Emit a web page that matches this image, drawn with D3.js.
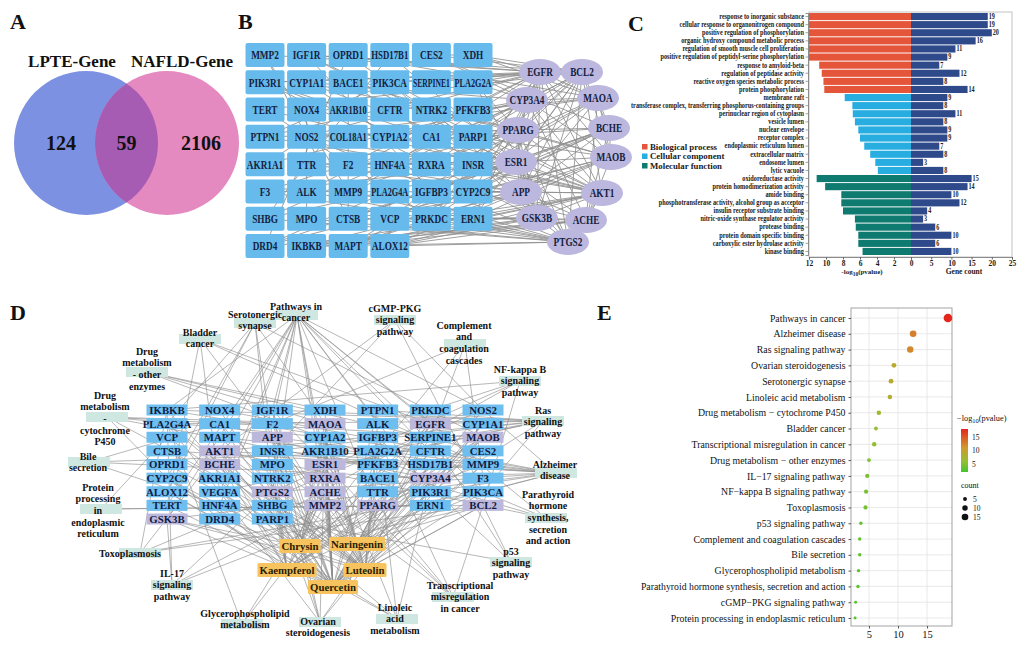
<!DOCTYPE html>
<html>
<head>
<meta charset="utf-8">
<script src="https://cdn.jsdelivr.net/npm/d3@7"></script>
<style>
  html, body { margin: 0; padding: 0; background: #fff; }
  svg { display: block; }
  svg text { font-family: "Liberation Serif", "Times New Roman", serif; }
</style>
</head>
<body>
<svg id="fig" width="1027" height="646"></svg>
<script>
// ─── Panel A data ────────────────────────────────────────────
const vennNames = ["LPTE-Gene", "NAFLD-Gene"];
const vennCounts = [124, 59, 2106]; // left only, shared, right only

// ─── Panel B data ────────────────────────────────────────────
const bGrid = [
  ["MMP2", "IGF1R", "OPRD1", "HSD17B1", "CES2", "XDH"],
  ["PIK3R1", "CYP1A1", "BACE1", "PIK3CA", "SERPINE1", "PLA2G2A"],
  ["TERT", "NOX4", "AKR1B10", "CFTR", "NTRK2", "PFKFB3"],
  ["PTPN1", "NOS2", "COL18A1", "CYP1A2", "CA1", "PARP1"],
  ["AKR1A1", "TTR", "F2", "HNF4A", "RXRA", "INSR"],
  ["F3", "ALK", "MMP9", "PLA2G4A", "IGFBP3", "CYP2C9"],
  ["SHBG", "MPO", "CTSB", "VCP", "PRKDC", "ERN1"],
  ["DRD4", "IKBKB", "MAPT", "ALOX12"]
];
const bHubs = ["EGFR", "BCL2", "CYP3A4", "MAOA", "PPARG", "BCHE", "ESR1",
               "MAOB", "APP", "AKT1", "GSK3B", "ACHE", "PTGS2"];
const bHubTargets = {
  EGFR:   ["MMP2", "IGF1R", "PIK3R1", "PIK3CA", "PTPN1", "NOS2", "MMP9", "ALK", "PRKDC", "SERPINE1", "XDH", "PLA2G2A", "ERN1", "INSR", "F2"],
  BCL2:   ["TERT", "PARP1", "PIK3R1", "PIK3CA", "MMP9", "IGF1R", "PRKDC", "ERN1", "VCP", "XDH", "CES2"],
  CYP3A4: ["CYP1A1", "CYP1A2", "CYP2C9", "HNF4A", "RXRA", "CES2", "AKR1A1", "SHBG", "PLA2G2A", "PFKFB3"],
  MAOA:   ["DRD4", "OPRD1", "MAPT", "NOS2", "CYP2C9", "XDH", "PFKFB3", "INSR"],
  PPARG:  ["RXRA", "HNF4A", "INSR", "PTPN1", "MMP9", "NOS2", "CYP1A1", "PLA2G2A", "PFKFB3", "PARP1", "IGFBP3"],
  BCHE:   ["MAPT", "CTSB", "VCP", "DRD4", "CES2", "PARP1", "CYP2C9"],
  ESR1:   ["SHBG", "HSD17B1", "IGF1R", "IGFBP3", "CYP1A1", "CYP1A2", "CTSB", "F2", "F3", "INSR", "TTR", "PRKDC"],
  MAOB:   ["DRD4", "MAPT", "BACE1", "NTRK2", "CYP2C9", "ERN1", "PARP1"],
  APP:    ["BACE1", "MAPT", "TTR", "CTSB", "IKBKB", "NTRK2", "F2", "F3", "ALOX12", "IGFBP3", "CYP2C9"],
  AKT1:   ["PIK3R1", "PIK3CA", "IGF1R", "INSR", "PTPN1", "NOS2", "TERT", "IKBKB", "MAPT", "ERN1", "PRKDC", "ALOX12", "CYP2C9"],
  GSK3B:  ["MAPT", "PIK3CA", "PIK3R1", "IKBKB", "CTSB", "ALOX12", "ERN1", "PRKDC"],
  ACHE:   ["MAPT", "IKBKB", "DRD4", "OPRD1", "ALOX12", "ERN1", "CYP2C9"],
  PTGS2:  ["NOS2", "ALOX12", "PLA2G4A", "PLA2G2A", "IKBKB", "MPO", "F3", "MMP9", "SHBG", "ALK", "VCP"]
};
const bHubPairs = [
  ["EGFR","BCL2"],["EGFR","CYP3A4"],["EGFR","MAOA"],["EGFR","PPARG"],["EGFR","ESR1"],["EGFR","AKT1"],
  ["EGFR","PTGS2"],["EGFR","APP"],["EGFR","GSK3B"],["EGFR","MAOB"],["BCL2","AKT1"],["BCL2","PTGS2"],
  ["BCL2","PPARG"],["BCL2","ESR1"],["BCL2","APP"],["BCL2","GSK3B"],["BCL2","CYP3A4"],["BCL2","MAOB"],
  ["BCL2","BCHE"],["CYP3A4","PPARG"],["CYP3A4","ESR1"],["CYP3A4","MAOA"],["CYP3A4","MAOB"],["CYP3A4","AKT1"],
  ["CYP3A4","ACHE"],["MAOA","MAOB"],["MAOA","BCHE"],["MAOA","ACHE"],["MAOA","APP"],["PPARG","ESR1"],
  ["PPARG","AKT1"],["PPARG","PTGS2"],["PPARG","APP"],["PPARG","BCHE"],["PPARG","GSK3B"],["BCHE","ACHE"],
  ["BCHE","APP"],["BCHE","MAOB"],["ESR1","AKT1"],["ESR1","PTGS2"],["ESR1","APP"],["ESR1","MAOB"],
  ["ESR1","GSK3B"],["ESR1","BCHE"],["MAOB","ACHE"],["MAOB","APP"],["APP","AKT1"],["APP","GSK3B"],
  ["APP","ACHE"],["APP","PTGS2"],["AKT1","GSK3B"],["AKT1","PTGS2"],["AKT1","ACHE"],["GSK3B","PTGS2"],
  ["GSK3B","ACHE"],["ACHE","PTGS2"]
];
const bRectPairs = [
  ["MMP2","MMP9"],["IGF1R","IGFBP3"],["PIK3R1","INSR"],["PIK3CA","PTPN1"],["NOX4","NOS2"],
  ["CYP1A1","CYP1A2"],["F2","F3"],["HNF4A","RXRA"],["SHBG","HSD17B1"],["PLA2G4A","ALOX12"],
  ["MPO","NOS2"],["CTSB","MMP2"],["BACE1","CTSB"],["TTR","RXRA"],["AKR1A1","AKR1B10"],
  ["TERT","PRKDC"],["OPRD1","DRD4"],["CES2","XDH"],["CFTR","CA1"],["MAPT","IKBKB"]
];

// ─── Panel C data ────────────────────────────────────────────
const goTerms = [
  "response to inorganic substance",
  "cellular response to organonitrogen compound",
  "positive regulation of phosphorylation",
  "organic hydroxy compound metabolic process",
  "regulation of smooth muscle cell proliferation",
  "positive regulation of peptidyl-serine phosphorylation",
  "response to amyloid-beta",
  "regulation of peptidase activity",
  "reactive oxygen species metabolic process",
  "protein phosphorylation",
  "membrane raft",
  "transferase complex, transferring phosphorus-containing groups",
  "perinuclear region of cytoplasm",
  "vesicle lumen",
  "nuclear envelope",
  "receptor complex",
  "endoplasmic reticulum lumen",
  "extracellular matrix",
  "endosome lumen",
  "lytic vacuole",
  "oxidoreductase activity",
  "protein homodimerization activity",
  "amide binding",
  "phosphotransferase activity, alcohol group as acceptor",
  "insulin receptor substrate binding",
  "nitric-oxide synthase regulator activity",
  "protease binding",
  "protein domain specific binding",
  "carboxylic ester hydrolase activity",
  "kinase binding"
];
const goLogP = [17.6, 15.3, 14.8, 13.9, 13.2, 12.6, 10.8, 10.5, 10.3, 10.2,
                7.8, 6.9, 6.85, 6.6, 6.2, 6.0, 5.5, 4.8, 4.2, 3.9,
                11.1, 10.1, 8.2, 8.2, 8.0, 6.6, 6.5, 6.2, 6.2, 5.7];
const goCount = [19, 19, 20, 16, 11, 9, 7, 12, 8, 14,
                 9, 8, 11, 8, 9, 9, 7, 8, 3, 8,
                 15, 14, 10, 12, 4, 3, 6, 10, 6, 10];
const goGroup = ["BP","BP","BP","BP","BP","BP","BP","BP","BP","BP",
                 "CC","CC","CC","CC","CC","CC","CC","CC","CC","CC",
                 "MF","MF","MF","MF","MF","MF","MF","MF","MF","MF"];
const goGroupNames = ["Biological process", "Cellular component", "Molecular function"];
const goLeftTicks = [12, 10, 8, 6, 4, 2, 0];
const goRightTicks = [5, 10, 15, 20, 25];

// ─── Panel D data ────────────────────────────────────────────
const dGrid = [
  ["IKBKB", "NOX4", "IGF1R", "XDH", "PTPN1", "PRKDC", "NOS2"],
  ["PLA2G4A", "CA1", "F2", "MAOA", "ALK", "EGFR", "CYP1A1"],
  ["VCP", "MAPT", "APP", "CYP1A2", "IGFBP3", "SERPINE1", "MAOB"],
  ["CTSB", "AKT1", "INSR", "AKR1B10", "PLA2G2A", "CFTR", "CES2"],
  ["OPRD1", "BCHE", "MPO", "ESR1", "PFKFB3", "HSD17B1", "MMP9"],
  ["CYP2C9", "AKR1A1", "NTRK2", "RXRA", "BACE1", "CYP3A4", "F3"],
  ["ALOX12", "VEGFA", "PTGS2", "ACHE", "TTR", "PIK3R1", "PIK3CA"],
  ["TERT", "HNF4A", "SHBG", "MMP2", "PPARG", "ERN1", "BCL2"],
  ["GSK3B", "DRD4", "PARP1"]
];
const dHubGenes = ["MAOA","EGFR","APP","MAOB","AKT1","BCHE","ESR1","RXRA","CYP3A4",
                   "PTGS2","ACHE","MMP2","PPARG","BCL2","GSK3B"];
const compounds = ["Chrysin", "Naringenin", "Kaempferol", "Luteolin", "Quercetin"];
const compoundTargets = {
  Quercetin:  ["IKBKB","NOX4","IGF1R","XDH","PTPN1","PRKDC","NOS2","CA1","F2","MAOA","EGFR","CYP1A1","APP",
               "CYP1A2","SERPINE1","MAOB","AKT1","INSR","AKR1B10","PLA2G2A","CFTR","ESR1","HSD17B1","MMP9",
               "CYP2C9","AKR1A1","RXRA","CYP3A4","F3","ALOX12","VEGFA","PTGS2","ACHE","PIK3R1","PIK3CA",
               "TERT","MMP2","PPARG","BCL2","GSK3B","PARP1"],
  Luteolin:   ["EGFR","AKT1","ESR1","PTGS2","BCL2","MMP9","CYP1A1","CYP1A2","MAOA","MAOB","APP","ACHE","BCHE",
               "PPARG","GSK3B","CA1","F2","PLA2G4A","PFKFB3","IGFBP3","ALK","CTSB","VCP","OPRD1","DRD4","MAPT"],
  Kaempferol: ["AKT1","ESR1","PTGS2","CYP3A4","MAOB","ACHE","BCHE","APP","EGFR","PPARG","CYP2C9","HNF4A",
               "SHBG","TTR","NTRK2","MPO","BACE1","ERN1","CES2"],
  Chrysin:    ["ESR1","CYP3A4","MAOA","MAOB","EGFR","APP","AKT1","ACHE","BCHE","PTGS2","CYP1A2","CYP2C9",
               "GSK3B","RXRA","MMP2","VEGFA","BCL2"],
  Naringenin: ["ESR1","PPARG","CYP3A4","MAOB","EGFR","ACHE","APP","AKT1","BCL2","CYP1A2","HSD17B1","CFTR",
               "AKR1B10","SHBG","ERN1","PIK3CA"]
};
const pathwayNames = [
  "Pathways in cancer", "Serotonergic synapse", "cGMP-PKG signaling pathway", "Bladder cancer",
  "Complement and coagulation cascades", "Drug metabolism - other enzymes", "NF-kappa B signaling pathway",
  "Drug metabolism - cytochrome P450", "Ras signaling pathway", "Bile secretion", "Alzheimer disease",
  "Protein processing in endoplasmic reticulum", "Parathyroid hormone synthesis, secretion and action",
  "Toxoplasmosis", "IL-17 signaling pathway", "p53 signaling pathway",
  "Transcriptional misregulation in cancer", "Glycerophospholipid metabolism",
  "Ovarian steroidogenesis", "Linoleic acid metabolism"
];
const pathwayLines = [
  ["Pathways in", "cancer"], ["Serotonergic", "synapse"], ["cGMP-PKG", "signaling", "pathway"],
  ["Bladder", "cancer"], ["Complement", "and", "coagulation", "cascades"],
  ["Drug", "metabolism", "- other", "enzymes"], ["NF-kappa B", "signaling", "pathway"],
  ["Drug", "metabolism", "-", "cytochrome", "P450"], ["Ras", "signaling", "pathway"],
  ["Bile", "secretion"], ["Alzheimer", "disease"],
  ["Protein", "processing", "in", "endoplasmic", "reticulum"],
  ["Parathyroid", "hormone", "synthesis,", "secretion", "and action"],
  ["Toxoplasmosis"], ["IL-17", "signaling", "pathway"], ["p53", "signaling", "pathway"],
  ["Transcriptional", "misregulation", "in cancer"], ["Glycerophospholipid", "metabolism"],
  ["Ovarian", "steroidogenesis"], ["Linoleic", "acid", "metabolism"]
];
const pathwayGenes = [
  ["EGFR","AKT1","PTGS2","BCL2","MMP2","MMP9","PIK3CA","PIK3R1","IKBKB","IGF1R","PPARG","RXRA","VEGFA","NOS2","GSK3B","ESR1","F2","HNF4A","TERT","ALK"],
  ["MAOA","MAOB","APP","PTGS2","PLA2G4A","CYP2C9","ALOX12"],
  ["INSR","PIK3CA","AKT1","NOS2"],
  ["EGFR","MMP2","MMP9","VEGFA","TERT"],
  ["F2","F3","SERPINE1","PLA2G2A"],
  ["XDH","CES2","CYP3A4","MAOA"],
  ["IKBKB","PTGS2","BCL2","PARP1","PRKDC"],
  ["MAOA","MAOB","CYP3A4","CYP2C9","CYP1A2","AKR1A1"],
  ["EGFR","AKT1","PIK3CA","PIK3R1","IKBKB","IGF1R","INSR","VEGFA","NTRK2","PLA2G4A","PLA2G2A","PTPN1"],
  ["CFTR","CYP3A4","CA1","HNF4A"],
  ["APP","BACE1","MAPT","GSK3B","AKT1","PIK3CA","PIK3R1","IKBKB","NOS2","PTGS2","NOX4","INSR","ERN1","CTSB"],
  ["ERN1","VCP","BCL2"],
  ["EGFR","CA1","PIK3CA","AKT1"],
  ["AKT1","BCL2","IKBKB","NOS2","PIK3CA"],
  ["PTGS2","GSK3B","IKBKB","MMP9","MMP2"],
  ["BCL2","SERPINE1","IGFBP3","PARP1"],
  ["IGF1R","IGFBP3","BCL2","MPO","PPARG","RXRA"],
  ["PLA2G4A","PLA2G2A","ACHE"],
  ["CYP1A1","CYP1A2","HSD17B1","INSR","IGF1R","PLA2G4A","PTGS2"],
  ["CYP1A2","CYP2C9","CYP3A4","PLA2G4A","PLA2G2A","ALOX12"]
];

// ─── Panel E data ────────────────────────────────────────────
const keggTerms = [
  "Pathways in cancer", "Alzheimer disease", "Ras signaling pathway", "Ovarian steroidogenesis",
  "Serotonergic synapse", "Linoleic acid metabolism", "Drug metabolism \u2212 cytochrome P450",
  "Bladder cancer", "Transcriptional misregulation in cancer", "Drug metabolism \u2212 other enzymes",
  "IL\u221217 signaling pathway", "NF\u2212kappa B signaling pathway", "Toxoplasmosis",
  "p53 signaling pathway", "Complement and coagulation cascades", "Bile secretion",
  "Glycerophospholipid metabolism", "Parathyroid hormone synthesis, secretion and action",
  "cGMP\u2212PKG signaling pathway", "Protein processing in endoplasmic reticulum"
];
const keggLogP = [18.6, 12.6, 12.1, 9.3, 8.8, 8.6, 6.7, 6.2, 5.9, 5.0,
                  4.7, 4.5, 4.4, 3.6, 3.4, 3.4, 3.2, 3.1, 2.7, 2.6];
const keggCount = [25, 15, 14, 8, 8, 7, 7, 5, 7, 5, 6, 6, 6, 4, 4, 4, 4, 4, 3, 3];
const keggXTicks = [5, 10, 15];
const keggColorTicks = [15, 10, 5];
const keggSizeTicks = [5, 10, 15];

// ─── Layout (node placement for the two networks) ───────────
const bHubLayout = {
  EGFR: [540, 72], BCL2: [582, 72], CYP3A4: [527, 100], MAOA: [598, 98], PPARG: [518, 130],
  BCHE: [609, 128], ESR1: [516, 162], MAOB: [611, 157], APP: [521, 192], AKT1: [602, 193],
  GSK3B: [537, 218], ACHE: [586, 220], PTGS2: [568, 242]
};
const dCompoundLayout = {
  Chrysin: [300, 546], Naringenin: [357, 544], Kaempferol: [287, 570], Luteolin: [365, 570], Quercetin: [333, 587]
};
// text x, first line y, node rect x, node rect y
const dPathwayLayout = [
  [296, 306, 297, 315], [255, 314, 255, 323], [395, 308, 395, 320], [200, 332, 200, 339],
  [464, 325, 465, 344], [147, 351, 147, 372], [520, 369, 520, 381], [105, 395, 107, 417],
  [543, 410, 543, 421], [88, 456, 89, 462], [555, 464, 556, 473], [98, 487, 101, 509],
  [548, 494, 546, 518], [130, 553, 140, 553], [172, 573, 172, 585], [511, 551, 511, 562],
  [460, 585, 453, 597], [245, 613, 242, 624], [318, 621, 320, 622], [395, 607, 397, 619]
];

// ─── Helpers ─────────────────────────────────────────────────
const SERIF = '"Liberation Serif", "Times New Roman", serif';
const svg = d3.select("#fig").attr("font-family", SERIF).style("font-family", SERIF);
function squeeze(sel, factor, maxW) {
  sel.each(function () {
    let t = this.getComputedTextLength() * factor;
    if (maxW && t > maxW) t = maxW;
    this.setAttribute("textLength", t);
    this.setAttribute("lengthAdjust", "spacingAndGlyphs");
  });
}
function panelLabel(t, x, y) {
  svg.append("text").attr("x", x).attr("y", y).attr("font-family", SERIF)
    .attr("font-size", 22).attr("font-weight", "bold").attr("fill", "#111").text(t);
}

// ═══ Panel A: Venn ═══════════════════════════════════════════
panelLabel("A", 10, 29);
{
  const g = svg.append("g").attr("font-family", SERIF);
  const vx = d3.scaleLinear().domain([0, 1]).range([86, 167]);
  const cy = 143, r = 72;
  g.append("clipPath").attr("id", "vennL")
    .append("circle").attr("cx", vx(0)).attr("cy", cy).attr("r", r);
  g.append("circle").attr("cx", vx(0)).attr("cy", cy).attr("r", r).attr("fill", "#7d91e2");
  g.append("circle").attr("cx", vx(1)).attr("cy", cy).attr("r", r).attr("fill", "#e48ac1");
  g.append("circle").attr("cx", vx(1)).attr("cy", cy).attr("r", r)
    .attr("clip-path", "url(#vennL)").attr("fill", "#a75cb3");
  g.selectAll("text.vn").data(vennNames).join("text")
    .attr("x", (d, i) => i ? 182 : 72).attr("y", 67)
    .attr("text-anchor", "middle").attr("font-size", 17).attr("font-weight", "bold")
    .attr("fill", "#111").text(d => d);
  const cx = [vx(0) - 25, (vx(0) + vx(1)) / 2, vx(1) + 34];
  g.selectAll("text.vc").data(vennCounts).join("text")
    .attr("x", (d, i) => cx[i]).attr("y", 150)
    .attr("text-anchor", "middle").attr("font-size", 20).attr("font-weight", "bold")
    .attr("fill", "#111").text(d => d);
}

// ═══ Panel B: PPI network ════════════════════════════════════
panelLabel("B", 238, 29);
{
  const g = svg.append("g").attr("font-family", SERIF);
  const col = d3.scaleLinear().domain([0, 5]).range([265, 473]);
  const row = d3.scaleLinear().domain([0, 7]).range([55, 246]);
  const pos = {};
  bGrid.forEach((r, j) => r.forEach((name, i) => pos[name] = [col(i), row(j)]));
  bHubs.forEach(h => pos[h] = bHubLayout[h]);

  const edges = [];
  bHubs.forEach(h => bHubTargets[h].forEach(t => edges.push([h, t])));
  bHubPairs.forEach(p => edges.push(p));
  bRectPairs.forEach(p => edges.push(p));

  g.append("g").selectAll("line").data(edges).join("line")
    .attr("x1", d => pos[d[0]][0]).attr("y1", d => pos[d[0]][1])
    .attr("x2", d => pos[d[1]][0]).attr("y2", d => pos[d[1]][1])
    .attr("stroke", "#8f8f8f").attr("stroke-width", 1).attr("stroke-opacity", 0.85);

  const rects = g.append("g").selectAll("g").data(bGrid.flat()).join("g")
    .attr("transform", d => `translate(${pos[d][0]},${pos[d][1]})`);
  rects.append("rect").attr("x", -19.5).attr("y", -12).attr("width", 39).attr("height", 24)
    .attr("rx", 2).attr("fill", "#66bbec");
  rects.append("text").attr("text-anchor", "middle").attr("dy", "0.35em")
    .attr("font-size", 12.5).attr("font-weight", "bold").attr("fill", "#14213f")
    .text(d => d).call(s => squeeze(s, 0.74, 37));

  const hubs = g.append("g").selectAll("g").data(bHubs).join("g")
    .attr("transform", d => `translate(${pos[d][0]},${pos[d][1]})`);
  hubs.append("ellipse").attr("rx", 21).attr("ry", 13).attr("fill", "#bbb7de");
  hubs.append("text").attr("text-anchor", "middle").attr("dy", "0.35em")
    .attr("font-size", 12.5).attr("font-weight", "bold").attr("fill", "#14213f")
    .text(d => d).call(s => squeeze(s, 0.74, 36));
}

// ═══ Panel C: GO bars ════════════════════════════════════════
panelLabel("C", 628, 31);
{
  const g = svg.append("g").attr("font-family", SERIF);
  const colors = { BP: "#e4553a", CC: "#27ade0", MF: "#0f7a70" };
  const navy = "#2f4a8b";
  const y = d3.scaleBand().domain(goTerms).range([13, 255]).paddingInner(0.12);
  const xl = d3.scaleLinear().domain([0, 12]).range([911, 809]).clamp(true);
  const xr = d3.scaleLinear().domain([0, 25]).range([911, 1012]);
  const rows = goTerms.map((t, i) => ({ t, p: goLogP[i], c: goCount[i], g: goGroup[i] }));

  g.append("rect").attr("x", 809).attr("y", 12).attr("width", 203).attr("height", 245)
    .attr("fill", "none").attr("stroke", "#b5b5b5").attr("stroke-width", 0.8);

  g.selectAll("rect.l").data(rows).join("rect")
    .attr("x", d => xl(d.p)).attr("y", d => y(d.t))
    .attr("width", d => 911 - xl(d.p)).attr("height", y.bandwidth())
    .attr("fill", d => colors[d.g]);
  g.selectAll("rect.r").data(rows).join("rect")
    .attr("x", 911).attr("y", d => y(d.t))
    .attr("width", d => xr(d.c) - 911).attr("height", y.bandwidth())
    .attr("fill", navy);
  g.selectAll("text.cnt").data(rows).join("text")
    .attr("x", d => xr(d.c) + 1).attr("y", d => y(d.t) + y.bandwidth() / 2)
    .attr("dy", "0.33em").attr("font-size", 7.2).attr("font-weight", "bold").attr("fill", "#222")
    .text(d => d.c).call(s => squeeze(s, 0.85));

  const ay = g.append("g").attr("transform", "translate(808,0)")
    .call(d3.axisLeft(y).tickSize(2.5).tickPadding(1.5));
  ay.attr("font-family", SERIF);
  ay.select(".domain").attr("stroke", "#666").attr("stroke-width", 0.7);
  ay.selectAll(".tick line").attr("stroke", "#666").attr("stroke-width", 0.6);
  ay.selectAll(".tick text").attr("font-size", 7.3).attr("font-weight", "bold")
    .attr("fill", "#1a1a1a").call(s => squeeze(s, 0.86));

  const bl = g.append("g").attr("transform", "translate(0,257)")
    .call(d3.axisBottom(xl).tickValues(goLeftTicks).tickSize(2.5).tickPadding(1.5));
  const br = g.append("g").attr("transform", "translate(0,257)")
    .call(d3.axisBottom(xr).tickValues(goRightTicks).tickSize(2.5).tickPadding(1.5));
  [bl, br].forEach(a => {
    a.attr("font-family", SERIF);
    a.select(".domain").attr("stroke", "#666").attr("stroke-width", 0.7);
    a.selectAll(".tick line").attr("stroke", "#666");
    a.selectAll(".tick text").attr("font-size", 7.5).attr("font-weight", "bold").attr("fill", "#1a1a1a");
  });
  const t1 = g.append("text").attr("x", 862).attr("y", 274).attr("text-anchor", "middle")
    .attr("font-size", 7).attr("font-weight", "bold").attr("fill", "#1a1a1a");
  t1.append("tspan").text("-log");
  t1.append("tspan").attr("font-size", 5.5).attr("dy", 1.5).text("10");
  t1.append("tspan").attr("dy", -1.5).text("(pvalue)");
  g.append("text").attr("x", 964).attr("y", 274).attr("text-anchor", "middle")
    .attr("font-size", 7.5).attr("font-weight", "bold").attr("fill", "#1a1a1a").text("Gene count");

  const lg = g.selectAll("g.lg").data(goGroupNames).join("g")
    .attr("transform", (d, i) => `translate(642,${147 + i * 9.5})`);
  lg.append("rect").attr("y", -3).attr("width", 5.5).attr("height", 5.5)
    .attr("fill", (d, i) => colors[["BP", "CC", "MF"][i]]);
  lg.append("text").attr("x", 8).attr("dy", "0.32em").attr("font-size", 8.8)
    .attr("font-weight", "bold").attr("fill", "#1a1a1a").text(d => d);
}

// ═══ Panel D: compound–target–pathway network ═══════════════
panelLabel("D", 10, 320);
{
  const g = svg.append("g").attr("font-family", SERIF);
  const col = d3.scaleLinear().domain([0, 6]).range([167, 483]);
  const row = d3.scaleLinear().domain([0, 8]).range([410, 519]);
  const pos = {};
  dGrid.forEach((r, j) => r.forEach((name, i) => pos[name] = [col(i), row(j)]));
  compounds.forEach(c => pos[c] = dCompoundLayout[c]);
  pathwayNames.forEach((p, i) => pos[p] = [dPathwayLayout[i][2], dPathwayLayout[i][3]]);

  const edges = [];
  compounds.forEach(c => compoundTargets[c].forEach(t => edges.push([c, t])));
  pathwayNames.forEach((p, i) => pathwayGenes[i].forEach(t => edges.push([p, t])));

  g.append("g").selectAll("line").data(edges).join("line")
    .attr("x1", d => pos[d[0]][0]).attr("y1", d => pos[d[0]][1])
    .attr("x2", d => pos[d[1]][0]).attr("y2", d => pos[d[1]][1])
    .attr("stroke", "#8c8c8c").attr("stroke-width", 0.7).attr("stroke-opacity", 0.9);

  const pw = g.append("g").selectAll("g").data(pathwayNames).join("g");
  pw.append("rect")
    .attr("x", (d, i) => dPathwayLayout[i][2] - 21).attr("y", (d, i) => dPathwayLayout[i][3] - 5)
    .attr("width", 42).attr("height", 10).attr("fill", "#cfe7e1");
  pw.each(function (d, i) {
    const [tx, ty] = dPathwayLayout[i];
    d3.select(this).selectAll("text").data(pathwayLines[i]).join("text")
      .attr("x", tx).attr("y", (l, k) => ty + k * 11.7).attr("dy", "0.35em")
      .attr("text-anchor", "middle").attr("font-size", 10).attr("font-weight", "bold")
      .attr("fill", "#111").text(l => l);
  });

  const gn = g.append("g").selectAll("g").data(dGrid.flat()).join("g")
    .attr("transform", d => `translate(${pos[d][0]},${pos[d][1]})`);
  gn.append("rect").attr("x", -20.5).attr("y", -5.5).attr("width", 41).attr("height", 11)
    .attr("fill", d => dHubGenes.includes(d) ? "#bcb8dc" : "#6ebff0");
  gn.append("text").attr("text-anchor", "middle").attr("dy", "0.36em")
    .attr("font-size", 10.8).attr("font-weight", "bold").attr("fill", "#101c44").text(d => d);

  const cn = g.append("g").selectAll("g").data(compounds).join("g")
    .attr("transform", d => `translate(${pos[d][0]},${pos[d][1]})`);
  cn.append("text").attr("text-anchor", "middle").attr("dy", "0.36em")
    .attr("font-size", 10.8).attr("font-weight", "bold").attr("fill", "#2a1c00").text(d => d);
  cn.each(function () {
    const t = d3.select(this).select("text");
    const w = t.node().getComputedTextLength() + 4;
    d3.select(this).insert("rect", "text").attr("x", -w / 2).attr("y", -7)
      .attr("width", w).attr("height", 14).attr("rx", 1.5).attr("fill", "#f6c35e");
  });
}

// ═══ Panel E: KEGG bubble chart ══════════════════════════════
panelLabel("E", 597, 320);
{
  const g = svg.append("g").attr("font-family", SERIF);
  const x = d3.scaleLinear().domain([1.9, 19.3]).range([851, 952]);
  const y = d3.scalePoint().domain(keggTerms).range([318, 618]);
  const r = d3.scaleSqrt().domain([0, 25]).range([0, 4.3]);
  const color = d3.scaleLinear().domain([2, 6, 11, 18])
    .range(["#44c42c", "#95bf33", "#d09a30", "#e5261d"]).clamp(true);

  g.selectAll("line.vg").data(keggXTicks).join("line")
    .attr("x1", d => x(d)).attr("x2", d => x(d)).attr("y1", 308).attr("y2", 626)
    .attr("stroke", "#e3e3e3").attr("stroke-width", 0.8);
  g.selectAll("line.hg").data(keggTerms).join("line")
    .attr("x1", 851).attr("x2", 952).attr("y1", d => y(d)).attr("y2", d => y(d))
    .attr("stroke", "#e3e3e3").attr("stroke-width", 0.8);
  g.append("rect").attr("x", 851).attr("y", 308).attr("width", 101).attr("height", 318)
    .attr("fill", "none").attr("stroke", "#9a9a9a").attr("stroke-width", 0.9);

  g.selectAll("circle.pt").data(keggTerms).join("circle")
    .attr("cx", (d, i) => x(keggLogP[i])).attr("cy", d => y(d))
    .attr("r", (d, i) => r(keggCount[i])).attr("fill", (d, i) => color(keggLogP[i]));

  const ay = g.append("g").attr("transform", "translate(851,0)")
    .call(d3.axisLeft(y).tickSize(2.5).tickPadding(3));
  ay.attr("font-family", SERIF);
  ay.select(".domain").remove();
  ay.selectAll(".tick line").attr("stroke", "#555");
  ay.selectAll(".tick text").attr("font-size", 9.8).attr("fill", "#111");
  const ax = g.append("g").attr("transform", "translate(0,626)")
    .call(d3.axisBottom(x).tickValues(keggXTicks).tickSize(2.5).tickPadding(2));
  ax.attr("font-family", SERIF);
  ax.select(".domain").remove();
  ax.selectAll(".tick line").attr("stroke", "#555");
  ax.selectAll(".tick text").attr("font-size", 10.5).attr("fill", "#111");

  const cy = d3.scaleLinear().domain([2, 18]).range([472, 429]);
  const grad = svg.append("defs").append("linearGradient").attr("id", "pgrad")
    .attr("x1", 0).attr("y1", 1).attr("x2", 0).attr("y2", 0);
  [2, 6, 11, 18].forEach(v => grad.append("stop")
    .attr("offset", (v - 2) / 16).attr("stop-color", color(v)));
  const lt = g.append("text").attr("x", 957).attr("y", 421).attr("font-size", 8.3).attr("fill", "#111");
  lt.append("tspan").text("\u2212log");
  lt.append("tspan").attr("font-size", 6.5).attr("dy", 2).text("10");
  lt.append("tspan").attr("dy", -2).text("(pvalue)");
  g.append("rect").attr("x", 961).attr("y", cy(18)).attr("width", 7)
    .attr("height", cy(2) - cy(18)).attr("fill", "url(#pgrad)");
  g.selectAll("text.ct").data(keggColorTicks).join("text")
    .attr("x", 972).attr("y", d => cy(d)).attr("dy", "0.35em")
    .attr("font-size", 7.5).attr("fill", "#111").text(d => d);

  g.append("text").attr("x", 961).attr("y", 488).attr("font-size", 8).attr("fill", "#111").text("count");
  const sl = g.selectAll("g.sl").data(keggSizeTicks).join("g")
    .attr("transform", (d, i) => `translate(965,${499 + i * 9})`);
  sl.append("circle").attr("r", d => r(d)).attr("fill", "#111");
  sl.append("text").attr("x", 8).attr("dy", "0.35em").attr("font-size", 7.5)
    .attr("fill", "#111").text(d => d);
}
</script>
</body>
</html>
